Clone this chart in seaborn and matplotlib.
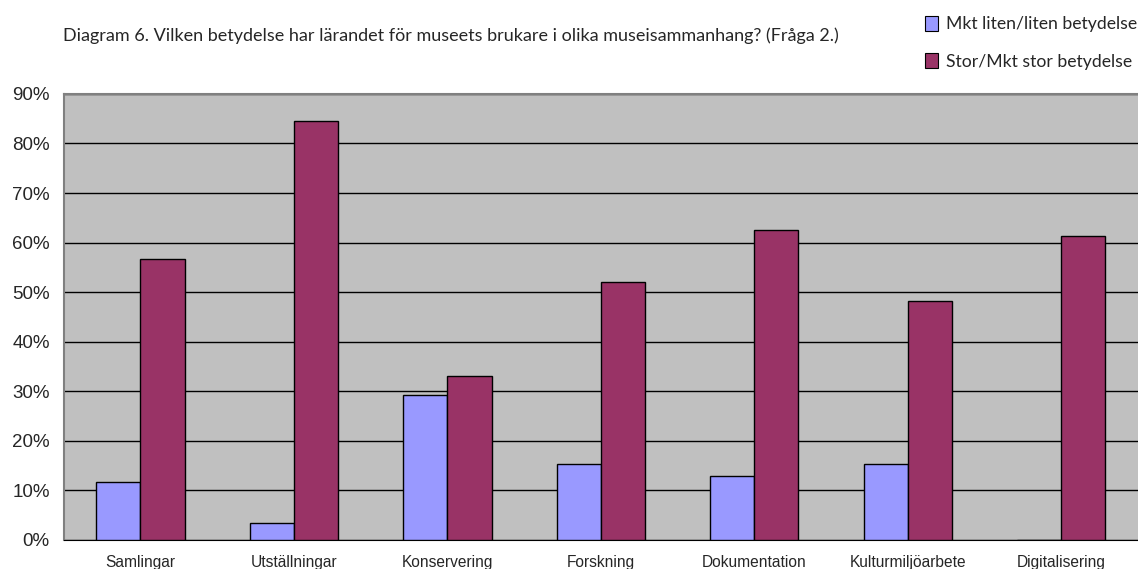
import numpy as np
import pandas as pd
import seaborn as sns
import matplotlib.pyplot as plt
from matplotlib.ticker import FuncFormatter, FixedLocator

categories = ['Samlingar', 'Utställningar', 'Konservering', 'Forskning',
              'Dokumentation', 'Kulturmiljöarbete', 'Digitalisering']
liten = [11.7, 3.4, 29.3, 15.4, 12.9, 15.4, 0.0]
stor = [56.6, 84.6, 33.0, 52.0, 62.5, 48.3, 61.3]
series = ['Mkt liten/liten betydelse', 'Stor/Mkt stor betydelse']
colors = ['#9999FF', '#993366']
title = 'Diagram 6. Vilken betydelse har lärandet för museets brukare i olika museisammanhang? (Fråga 2.)'


def main():
    data = pd.DataFrame({
        'kategori': categories * 2,
        'serie': [series[0]] * len(categories) + [series[1]] * len(categories),
        'andel': liten + stor,
    })

    sns.set_style('white')
    plt.rcParams['font.family'] = ['Liberation Sans', 'DejaVu Sans']

    fig = plt.figure(figsize=(11.38, 5.69), dpi=100)
    ax = fig.add_axes([0.056, 0.051, 0.944, 0.784])
    ax.set_facecolor('#C0C0C0')

    sns.barplot(data=data, x='kategori', y='andel', hue='serie', order=categories,
                hue_order=series, palette=colors, width=0.575, gap=0,
                edgecolor='black', linewidth=1.0, saturation=1, ax=ax,
                legend=False, zorder=3)

    ax.set_ylim(0, 90)
    ax.set_xlim(-0.5, len(categories) - 0.5)
    ax.set_yticks(np.arange(0, 91, 10))
    ax.yaxis.set_major_formatter(FuncFormatter(lambda v, p: f'{v:.0f}%'))
    ax.yaxis.grid(True, color='black', linewidth=1.0, zorder=1)
    ax.set_axisbelow(True)
    ax.set_xlabel('')
    ax.set_ylabel('')

    ax.xaxis.set_minor_locator(FixedLocator(np.arange(0.5, len(categories) - 0.5, 1)))
    ax.tick_params(axis='x', which='major', length=0, pad=11, labelsize=11.2)
    ax.tick_params(axis='x', which='minor', length=5, width=1, color='black', direction='out')
    ax.tick_params(axis='y', length=6, width=1, color='black', direction='out',
                   labelsize=13.5, pad=4)

    for side in ['left', 'top']:
        ax.spines[side].set_color('#808080')
        ax.spines[side].set_linewidth(1.5)
    ax.spines['bottom'].set_color('black')
    ax.spines['right'].set_visible(False)

    fig.text(0.055, 0.938, title, fontsize=13, family=['Lato', 'DejaVu Sans'],
             va='center', ha='left')

    handles = [plt.Rectangle((0, 0), 1, 1, facecolor=c, edgecolor='black', linewidth=0.8)
               for c in colors]
    fig.legend(handles, series, loc='upper right', bbox_to_anchor=(1.013, 1.0),
               frameon=False, handlelength=0.72, handleheight=0.9, handletextpad=0.45,
               labelspacing=1.2, prop={'family': ['Lato', 'DejaVu Sans'], 'size': 12.7})

    fig.savefig('out.png', dpi=100)


if __name__ == '__main__':
    main()
